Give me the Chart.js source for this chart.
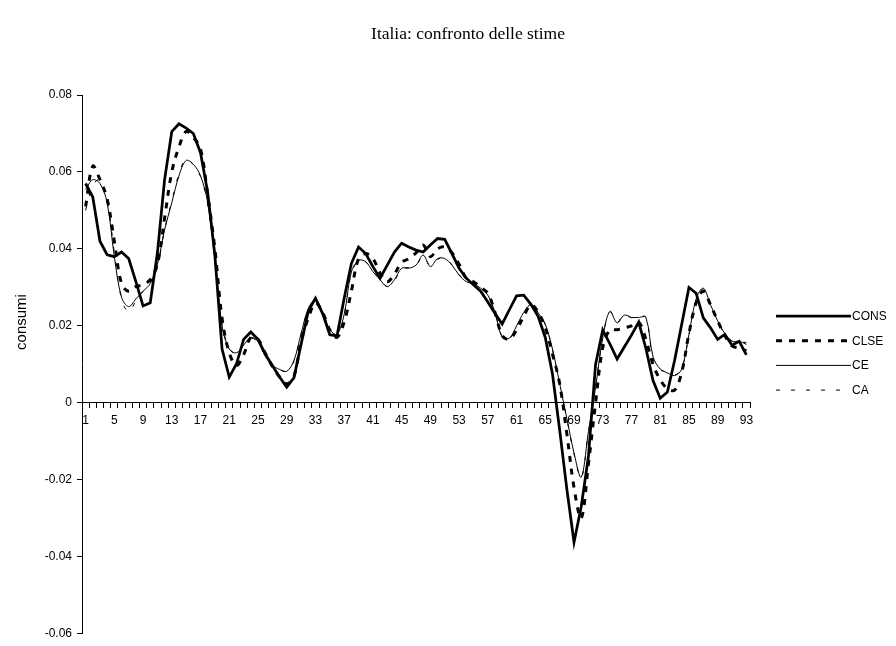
<!DOCTYPE html>
<html>
<head>
<meta charset="utf-8">
<script src="https://cdn.jsdelivr.net/npm/chart.js@4/dist/chart.umd.min.js"></script>
<style>
html,body{margin:0;padding:0;background:#fff;}
canvas{display:block;}
</style>
</head>
<body>
<canvas id="c" width="896" height="646"></canvas>
<script>
const chartTitle = 'Italia: confronto delle stime';
const yAxisTitle = 'consumi';
const seriesNames = ['CONS', 'CLSE', 'CE', 'CA'];

const categories = ['1','2','3','4','5','6','7','8','9','10','11','12','13','14','15','16','17','18','19','20',
 '21','22','23','24','25','26','27','28','29','30','31','32','33','34','35','36','37','38','39','40',
 '41','42','43','44','45','46','47','48','49','50','51','52','53','54','55','56','57','58','59','60',
 '61','62','63','64','65','66','67','68','69','70','71','72','73','74','75','76','77','78','79','80',
 '81','82','83','84','85','86','87','88','89','90','91','92','93'];

const yTickValues = [-0.06, -0.04, -0.02, 0, 0.02, 0.04, 0.06, 0.08];
const yTickLabels = ['-0.06', '-0.04', '-0.02', '0', '0.02', '0.04', '0.06', '0.08'];

const cons = [0.057,0.0535,0.042,0.0385,0.038,0.0392,0.0375,0.0315,0.0252,0.026,
 0.039,0.058,0.0705,0.0725,0.0714,0.070,0.065,0.0547,0.0384,0.014,
 0.0067,0.0101,0.0165,0.0184,0.0165,0.0127,0.0097,0.0067,0.0041,0.0065,
 0.0152,0.0238,0.0272,0.0232,0.0177,0.0174,0.0272,0.0362,0.0405,0.0388,
 0.0354,0.0324,0.0358,0.0392,0.0415,0.0405,0.0397,0.0392,0.041,0.0427,
 0.0425,0.0388,0.035,0.0324,0.0307,0.029,0.0262,0.0232,0.0205,0.0242,
 0.0278,0.028,0.0256,0.0225,0.017,0.0075,-0.007,-0.0224,-0.0362,-0.027,
 -0.014,0.010,0.019,0.0153,0.0114,0.0145,0.0176,0.021,0.0142,0.0058,
 0.0012,0.0028,0.011,0.0205,0.030,0.0285,0.0221,0.0195,0.0165,0.0178,
 0.015,0.016,0.0125];

const clse = [0.051,0.0615,0.058,0.053,0.042,0.031,0.029,0.0302,0.0307,0.032,
 0.036,0.048,0.060,0.0665,0.0705,0.069,0.066,0.054,0.040,0.022,
 0.013,0.0097,0.0125,0.017,0.0165,0.013,0.0095,0.0068,0.005,0.0068,
 0.016,0.022,0.026,0.0235,0.019,0.017,0.021,0.029,0.0375,0.0388,
 0.0375,0.0337,0.0315,0.0335,0.0365,0.0375,0.039,0.041,0.038,0.040,
 0.0405,0.039,0.036,0.0324,0.0315,0.030,0.0285,0.0235,0.0175,0.0165,
 0.019,0.0225,0.0255,0.0236,0.0195,0.0127,0.005,-0.008,-0.022,-0.030,
 -0.016,0.000,0.0144,0.019,0.019,0.0195,0.020,0.021,0.0165,0.010,
 0.006,0.0037,0.0033,0.008,0.018,0.026,0.029,0.0255,0.0213,0.0175,
 0.0148,0.0142,0.0135];

const ce = [0.0555,0.058,0.057,0.052,0.038,0.0275,0.025,0.027,0.029,0.031,
 0.036,0.045,0.052,0.059,0.063,0.062,0.059,0.052,0.037,0.020,
 0.014,0.013,0.015,0.017,0.016,0.0122,0.0098,0.0087,0.0082,0.011,
 0.018,0.0245,0.0268,0.0235,0.019,0.0178,0.023,0.034,0.037,0.0367,
 0.0341,0.032,0.0302,0.032,0.035,0.035,0.0358,0.0384,0.0354,0.0375,
 0.0375,0.0358,0.0332,0.0315,0.031,0.0298,0.028,0.0235,0.017,0.0168,
 0.020,0.0235,0.0255,0.0234,0.0204,0.014,0.005,-0.004,-0.013,-0.0193,
 -0.0075,0.004,0.017,0.0238,0.0208,0.0228,0.0222,0.0222,0.0222,0.012,
 0.0088,0.0078,0.0071,0.0088,0.0178,0.027,0.0298,0.0255,0.0213,0.018,
 0.016,0.016,0.0152];

const ca = [0.050,0.0565,0.058,0.053,0.039,0.027,0.0236,0.0265,0.029,0.0312,
 0.0355,0.045,0.0525,0.0595,0.0635,0.0618,0.0588,0.0515,0.0368,0.0205,
 0.0142,0.0128,0.015,0.0168,0.0158,0.0123,0.0097,0.0086,0.0083,0.0108,
 0.0178,0.0243,0.0266,0.0236,0.0192,0.0177,0.0228,0.0338,0.0368,0.0366,
 0.0342,0.0321,0.0303,0.0318,0.0348,0.0352,0.0357,0.0382,0.0356,0.0373,
 0.0376,0.0359,0.0333,0.0316,0.0309,0.0297,0.0279,0.0233,0.0172,0.0167,
 0.0198,0.0234,0.0254,0.0235,0.0203,0.0138,0.0048,-0.0042,-0.0133,-0.0195,
 -0.0078,0.0042,0.0168,0.0236,0.0209,0.0232,0.0221,0.0223,0.0223,0.0115,
 0.0087,0.0079,0.0072,0.0089,0.0176,0.0268,0.0296,0.0256,0.0212,0.0179,
 0.0161,0.0159,0.0157];

const FONT = "'Liberation Sans', Arial, sans-serif";
const SERIF = "'Liberation Serif', 'Times New Roman', serif";

const styles = [
  {borderWidth: 2.75, borderDash: [], tension: 0},
  {borderWidth: 3, borderDash: [6, 7], tension: 0.35},
  {borderWidth: 1, borderDash: [], tension: 0.35},
  {borderWidth: 1, borderDash: [4, 11], tension: 0.35}
];
const seriesData = [cons, clse, ce, ca];

const datasets = seriesNames.map((name, i) => ({
  label: name,
  data: seriesData[i],
  borderColor: '#000',
  backgroundColor: '#000',
  borderWidth: styles[i].borderWidth,
  borderDash: styles[i].borderDash,
  borderCapStyle: 'butt',
  borderJoinStyle: 'miter',
  tension: styles[i].tension,
  pointRadius: 0,
  pointHoverRadius: 0,
  fill: false,
  order: 4 - i
}));

const decorPlugin = {
  id: 'decor',
  afterDraw(chart) {
    const ctx = chart.ctx;
    ctx.save();
    // title
    ctx.fillStyle = '#000';
    ctx.font = "17.5px " + SERIF;
    ctx.textAlign = 'center';
    ctx.textBaseline = 'middle';
    ctx.fillText(chartTitle, 468, 34);
    // y axis title
    ctx.save();
    ctx.translate(22, 322);
    ctx.rotate(-Math.PI / 2);
    ctx.font = "15px " + FONT;
    ctx.textAlign = 'center';
    ctx.textBaseline = 'middle';
    ctx.fillText(yAxisTitle, 0, 0);
    ctx.restore();
    // legend
    const x0 = 776, x1 = 851, yStart = 316, step = 24.7;
    seriesNames.forEach((name, i) => {
      const y = yStart + i * step;
      ctx.beginPath();
      ctx.lineWidth = styles[i].borderWidth;
      ctx.setLineDash(styles[i].borderDash);
      ctx.lineCap = 'butt';
      ctx.strokeStyle = '#000';
      ctx.moveTo(x0, y);
      ctx.lineTo(x1, y);
      ctx.stroke();
      ctx.setLineDash([]);
      ctx.font = "12px " + FONT;
      ctx.textAlign = 'left';
      ctx.textBaseline = 'middle';
      ctx.fillText(name, x1 + 1, y + 0.5);
    });
    ctx.restore();
  }
};

new Chart(document.getElementById('c'), {
  type: 'line',
  data: {labels: categories, datasets},
  options: {
    responsive: false,
    devicePixelRatio: 1,
    animation: false,
    layout: {padding: {left: 0, right: 146, top: 95, bottom: 8}},
    plugins: {legend: {display: false}, title: {display: false}, tooltip: {enabled: false}},
    scales: {
      x: {
        type: 'category',
        offset: true,
        position: {y: 0},
        grid: {display: true, offset: true, drawOnChartArea: false, drawTicks: true, tickLength: 5, color: '#000', lineWidth: 1},
        border: {display: true, color: '#000', width: 1},
        ticks: {
          autoSkip: false, maxRotation: 0, minRotation: 0, padding: 6,
          color: '#000', font: {family: FONT, size: 12},
          callback: (v, idx) => (idx % 4 === 0 ? categories[idx] : '')
        }
      },
      y: {
        min: -0.06, max: 0.08,
        afterFit: (scale) => { scale.width = 82; },
        afterBuildTicks: (scale) => { scale.ticks = yTickValues.map(v => ({value: v})); },
        grid: {display: true, drawOnChartArea: false, drawTicks: true, tickLength: 5, color: '#000', lineWidth: 1},
        border: {display: true, color: '#000', width: 1},
        ticks: {
          padding: 5, color: '#000', font: {family: FONT, size: 12},
          callback: (v, idx) => yTickLabels[idx]
        }
      }
    }
  },
  plugins: [decorPlugin]
});
</script>
</body>
</html>
